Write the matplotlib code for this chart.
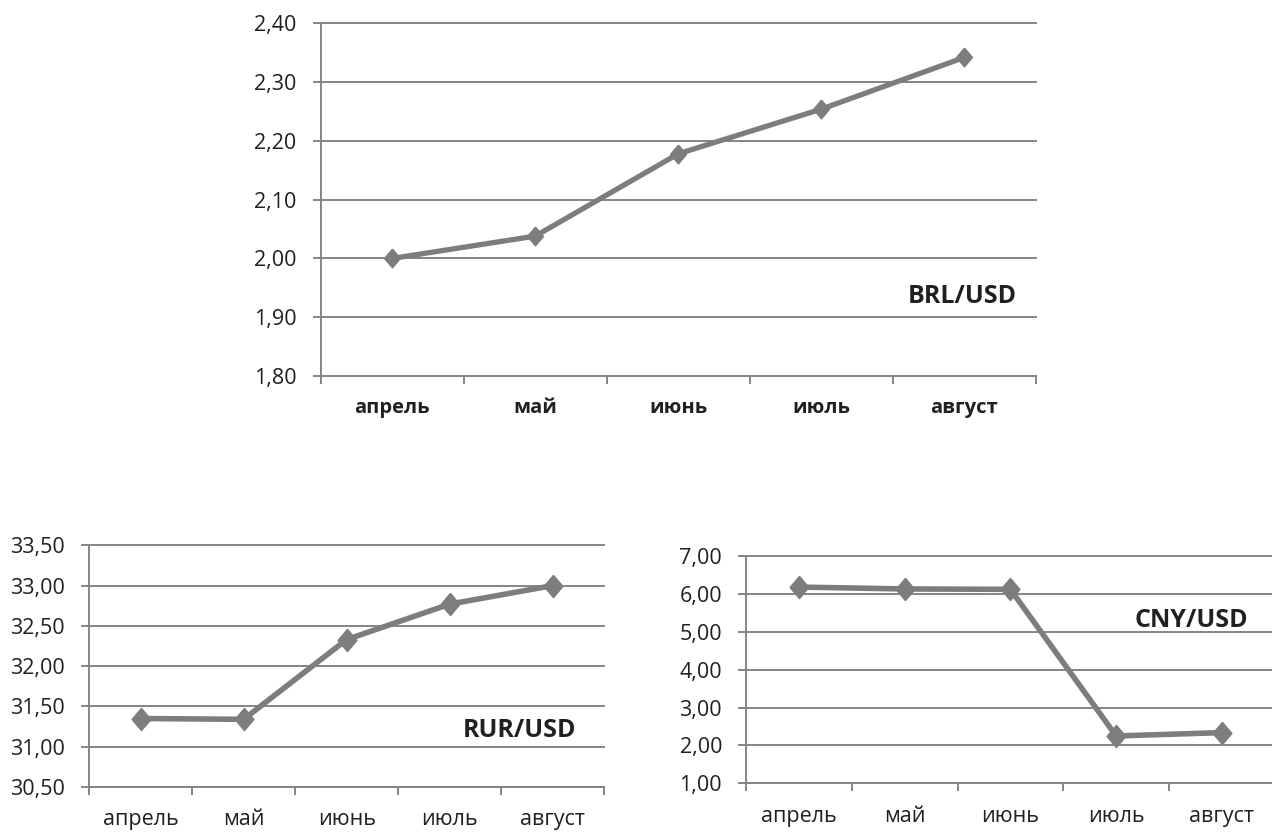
import matplotlib.pyplot as plt
from matplotlib.ticker import FixedLocator, FuncFormatter

# Monthly exchange rates
months = ["апрель", "май", "июнь", "июль", "август"]
brl_usd = [2.00, 2.038, 2.178, 2.254, 2.342]
rur_usd = [31.35, 31.34, 32.33, 32.77, 33.00]
cny_usd = [6.17, 6.12, 6.11, 2.25, 2.34]

brl_ticks = [1.80, 1.90, 2.00, 2.10, 2.20, 2.30, 2.40]
rur_ticks = [30.50, 31.00, 31.50, 32.00, 32.50, 33.00, 33.50]
cny_ticks = [1.00, 2.00, 3.00, 4.00, 5.00, 6.00, 7.00]

plt.rcParams['font.family'] = ['Open Sans', 'DejaVu Sans']
text_color = "#231f20"
line_color = "#7d7d7d"
grid_color = "#858585"

# slightly tall diamond marker
diamond = [(0, 1.18), (1, 0), (0, -1.18), (-1, 0), (0, 1.18)]


def rate_chart(ax, values, yticks, label, label_xy, tick_size, bold_months,
               marker_size, line_width):
    x = list(range(len(months)))
    ax.plot(x, values, color=line_color, linewidth=line_width, marker=diamond,
            markersize=marker_size, markerfacecolor=line_color,
            markeredgecolor=line_color, solid_joinstyle='round', zorder=3)

    ax.set_xlim(-0.5, len(months) - 0.5)
    ax.set_ylim(yticks[0], yticks[-1])

    # tick marks between categories, labels at category centres
    ax.xaxis.set_major_locator(FixedLocator([i - 0.5 for i in range(len(months) + 1)]))
    ax.xaxis.set_minor_locator(FixedLocator(x))
    ax.xaxis.set_major_formatter(FuncFormatter(lambda v, p: ""))
    ax.xaxis.set_minor_formatter(FuncFormatter(lambda v, p: months[int(round(v))]))
    ax.tick_params(axis='x', which='major', direction='out', length=5.8, width=1.4,
                   color=grid_color)
    ax.tick_params(axis='x', which='minor', length=0, pad=16, labelsize=tick_size,
                   labelcolor=text_color)
    if bold_months:
        for t in ax.get_xticklabels(minor=True):
            t.set_fontweight('bold')
            t.set_fontsize(14.5)

    ax.set_yticks(yticks)
    ax.set_yticklabels([f"{v:.2f}".replace(".", ",") for v in yticks])
    ax.tick_params(axis='y', direction='out', length=5.8, width=1.4, color=grid_color,
                   pad=11.5, labelsize=tick_size, labelcolor=text_color)

    ax.grid(axis='y', color=grid_color, linewidth=1.4)
    for gl in ax.get_ygridlines():
        gl.set_clip_on(False)
    ax.set_axisbelow(True)

    for side in ['top', 'right']:
        ax.spines[side].set_visible(False)
    for side in ['left', 'bottom']:
        ax.spines[side].set_color(grid_color)
        ax.spines[side].set_linewidth(1.4)

    ax.text(label_xy[0], label_xy[1], label, transform=ax.transAxes, ha='right',
            va='baseline', fontsize=18, fontweight='bold', color=text_color)


fig = plt.figure(figsize=(12.72, 8.32), dpi=100)

ax_brl = fig.add_axes([0.2521, 0.5481, 0.5623, 0.4239])
rate_chart(ax_brl, brl_usd, brl_ticks, "BRL/USD", (0.9735, 0.206), 15.5, True, 13.5, 3.8)

ax_rur = fig.add_axes([0.06997, 0.05409, 0.4051, 0.2905])
rate_chart(ax_rur, rur_usd, rur_ticks, "RUR/USD", (0.945, 0.208), 15.5, False, 16, 4.0)

ax_cny = fig.add_axes([0.5865, 0.0583, 0.4157, 0.274])
rate_chart(ax_cny, cny_usd, cny_ticks, "CNY/USD", (0.950, 0.687), 15.5, False, 16, 4.0)

plt.savefig("out.png", dpi=100)
